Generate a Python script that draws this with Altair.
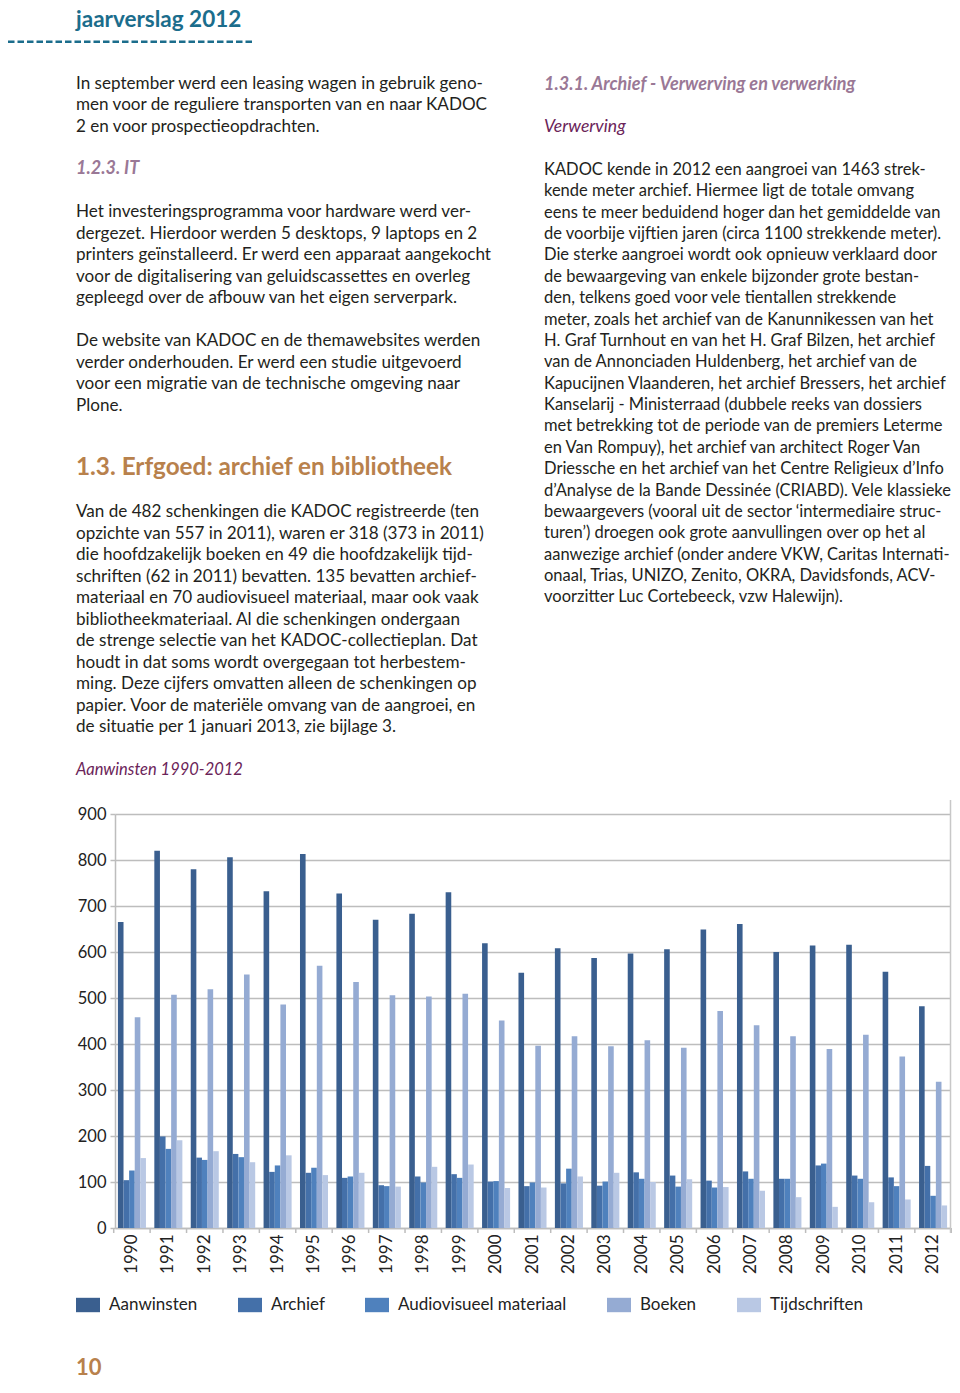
import altair as alt
import pandas as pd

FONT = "Lato"
BODY = "#231f20"

years = [str(y) for y in range(1990, 2013)]
series = ["Aanwinsten", "Archief", "Audiovisueel materiaal", "Boeken", "Tijdschriften"]
aanwinsten = [665, 820, 780, 806, 732, 813, 727, 670, 683, 730, 619, 555, 608, 587, 597, 606, 649, 661, 600, 614, 616, 557, 482]
archief = [104, 199, 153, 161, 122, 120, 109, 93, 112, 117, 101, 91, 97, 92, 121, 114, 103, 123, 107, 136, 114, 110, 135]
audiovisueel = [125, 172, 148, 154, 136, 131, 112, 91, 99, 109, 102, 99, 129, 101, 107, 90, 88, 107, 107, 140, 107, 91, 70]
boeken = [458, 507, 519, 551, 486, 570, 535, 506, 503, 509, 451, 396, 417, 395, 408, 392, 472, 441, 417, 389, 420, 373, 318]
tijdschriften = [152, 191, 167, 143, 158, 115, 120, 90, 133, 138, 87, 88, 112, 120, 100, 106, 89, 81, 67, 46, 56, 62, 49]
colors = ["#3a5f8f", "#4470a9", "#4f81bd", "#95abd3", "#b9c8e4"]
y_ticks = list(range(0, 1000, 100))

rows = []
for s, vals in zip(series, [aanwinsten, archief, audiovisueel, boeken, tijdschriften]):
    for yr, v in zip(years, vals):
        rows.append({"jaar": yr, "reeks": s, "aantal": v})
df = pd.DataFrame(rows)

# plot origin on the page
OX, OY = 115, 814
PW, PH = 835, 414
CW, CH = 944, 1372  # whole canvas

x_scale = alt.Scale(domain=years, paddingInner=0.23, paddingOuter=0.08)

bars = alt.Chart(df).mark_bar().encode(
    x=alt.X("jaar:N", scale=x_scale, sort=years,
            axis=alt.Axis(title=None, labelAngle=270, labelFont=FONT, labelFontSize=17,
                          labelColor="#222", ticks=False, labelPadding=6,
                          domainColor="#bdbdbd", domainWidth=1.5)),
    xOffset=alt.XOffset("reeks:N", sort=series),
    y=alt.Y("aantal:Q", scale=alt.Scale(domain=[0, 900], nice=False),
            axis=alt.Axis(title=None, values=y_ticks, labelFont=FONT, labelFontSize=16.5,
                          labelColor="#222", tickColor="#bdbdbd", tickSize=5, tickWidth=1.5,
                          domainColor="#bdbdbd", domainWidth=1.5, gridColor="#bdbdbd",
                          gridWidth=1.5, labelPadding=4)),
    color=alt.Color("reeks:N", sort=series,
                    scale=alt.Scale(domain=series, range=colors),
                    legend=alt.Legend(title=None, orient="none", legendX=-39, legendY=479,
                                      direction="horizontal",
                                      symbolType="M-1,-0.6H1V0.6H-1Z", symbolSize=576,
                                      symbolStrokeWidth=0, symbolOpacity=1,
                                      labelFont=FONT, labelFontSize=17, labelColor="#222",
                                      labelOffset=9, columnPadding=40, labelLimit=400)),
)

tick_df = pd.DataFrame({"jaar": years})
ticks_left = alt.Chart(tick_df).mark_rule(color="#bdbdbd", strokeWidth=1.5, xOffset=-4.2).encode(
    x=alt.X("jaar:N", sort=years, bandPosition=0),
    y=alt.value(PH), y2=alt.value(PH + 5),
)
ticks_end = alt.Chart(pd.DataFrame({"jaar": years[-1:]})).mark_rule(
    color="#bdbdbd", strokeWidth=1.5, xOffset=4.2).encode(
    x=alt.X("jaar:N", sort=years, bandPosition=1),
    y=alt.value(PH), y2=alt.value(PH + 5),
)

one = alt.Data(values=[{}])


def txt(lines, x, baseline, size=17.1, color=BODY, weight="normal", style="normal", lh=21.45):
    top = baseline - 0.79 * size
    return alt.Chart(one).mark_text(
        align="left", baseline="top", lineBreak="\n", lineHeight=lh, font=FONT,
        fontSize=size, color=color, fontWeight=weight, fontStyle=style,
    ).encode(x=alt.value(x - OX), y=alt.value(top - OY), text=alt.value("\n".join(lines)))


MAUVE = "#9a7896"
PURPLE = "#6b2459"
BROWN = "#b8814c"
TEAL = "#1b6d8c"

texts = [
    txt(["jaarverslag 2012"], 76, 26.5, size=22.5, color=TEAL, weight="bold"),
    txt(["In september werd een leasing wagen in gebruik geno-",
         "men voor de reguliere transporten van en naar KADOC",
         "2 en voor prospectieopdrachten."], 76, 88.5),
    txt(["1.2.3. IT"], 76, 174.5, size=18, color=MAUVE, weight="bold", style="italic"),
    txt(["Het investeringsprogramma voor hardware werd ver-",
         "dergezet. Hierdoor werden 5 desktops, 9 laptops en 2",
         "printers geïnstalleerd. Er werd een apparaat aangekocht",
         "voor de digitalisering van geluidscassettes en overleg",
         "gepleegd over de afbouw van het eigen serverpark."], 76, 216.7),
    txt(["De website van KADOC en de themawebsites werden",
         "verder onderhouden. Er werd een studie uitgevoerd",
         "voor een migratie van de technische omgeving naar",
         "Plone."], 76, 345.7),
    txt(["1.3. Erfgoed: archief en bibliotheek"], 76, 475, size=24.3, color=BROWN, weight="bold"),
    txt(["Van de 482 schenkingen die KADOC registreerde (ten",
         "opzichte van 557 in 2011), waren er 318 (373 in 2011)",
         "die hoofdzakelijk boeken en 49 die hoofdzakelijk tijd-",
         "schriften (62 in 2011) bevatten. 135 bevatten archief-",
         "materiaal en 70 audiovisueel materiaal, maar ook vaak",
         "bibliotheekmateriaal. Al die schenkingen ondergaan",
         "de strenge selectie van het KADOC-collectieplan. Dat",
         "houdt in dat soms wordt overgegaan tot herbestem-",
         "ming. Deze cijfers omvatten alleen de schenkingen op",
         "papier. Voor de materiële omvang van de aangroei, en",
         "de situatie per 1 januari 2013, zie bijlage 3."], 76, 517, lh=21.45),
    txt(["Aanwinsten 1990-2012"], 76, 775, size=16.5, color=PURPLE, style="italic"),
    txt(["1.3.1. Archief - Verwerving en verwerking"], 544, 90.5, size=18, color=MAUVE,
        weight="bold", style="italic"),
    txt(["Verwerving"], 544, 132, size=17.6, color=PURPLE, style="italic"),
    txt(["KADOC kende in 2012 een aangroei van 1463 strek-",
         "kende meter archief. Hiermee ligt de totale omvang",
         "eens te meer beduidend hoger dan het gemiddelde van",
         "de voorbije vijftien jaren (circa 1100 strekkende meter).",
         "Die sterke aangroei wordt ook opnieuw verklaard door",
         "de bewaargeving van enkele bijzonder grote bestan-",
         "den, telkens goed voor vele tientallen strekkende",
         "meter, zoals het archief van de Kanunnikessen van het",
         "H. Graf Turnhout en van het H. Graf Bilzen, het archief",
         "van de Annonciaden Huldenberg, het archief van de",
         "Kapucijnen Vlaanderen, het archief Bressers, het archief",
         "Kanselarij - Ministerraad (dubbele reeks van dossiers",
         "met betrekking tot de periode van de premiers Leterme",
         "en Van Rompuy), het archief van architect Roger Van",
         "Driessche en het archief van het Centre Religieux d’Info",
         "d’Analyse de la Bande Dessinée (CRIABD). Vele klassieke",
         "bewaargevers (vooral uit de sector ‘intermediaire struc-",
         "turen’) droegen ook grote aanvullingen over op het al",
         "aanwezige archief (onder andere VKW, Caritas Internati-",
         "onaal, Trias, UNIZO, Zenito, OKRA, Davidsfonds, ACV-",
         "voorzitter Luc Cortebeeck, vzw Halewijn)."], 544, 175, size=16.5, lh=21.375),
    txt(["10"], 76, 1375, size=22, color=BROWN, weight="bold"),
]

dash = alt.Chart(one).mark_rule(color=TEAL, strokeWidth=2.5, strokeDash=[6.5, 3]).encode(
    x=alt.value(8 - OX), x2=alt.value(253 - OX), y=alt.value(41.7 - OY))

frame = alt.Chart(one).mark_rule(color="#c8c8c8", strokeWidth=1.5).encode(
    x=alt.value(950.5 - OX), y=alt.value(800 - OY), y2=alt.value(1233 - OY))

chart = alt.layer(bars, ticks_left, ticks_end, dash, frame, *texts).properties(
    width=PW, height=PH,
    padding={"left": OX - 8, "top": OY - 8, "right": CW - (OX - 8) - PW, "bottom": CH - (OY - 8) - PH},
    autosize=alt.AutoSizeParams(type="none"),
).configure_view(stroke=None).configure_scale(offsetBandPaddingInner=0, offsetBandPaddingOuter=0)

chart.save("out.html", embed_options={"renderer": "svg", "actions": False})
